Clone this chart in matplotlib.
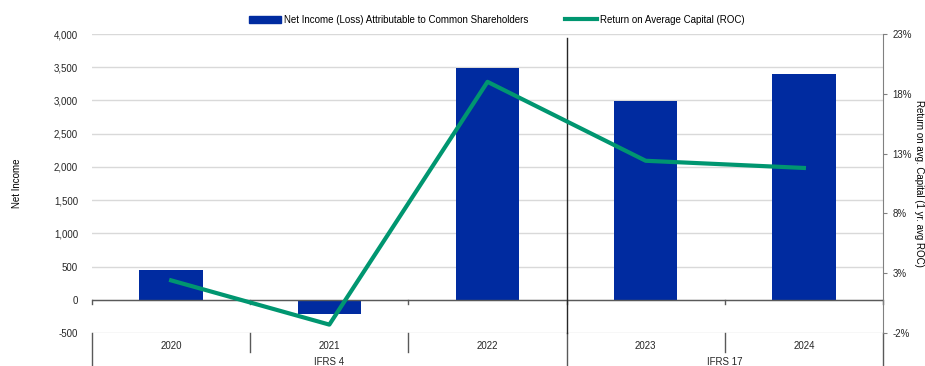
import matplotlib.pyplot as plt
import numpy as np
from matplotlib.ticker import FuncFormatter
from matplotlib.lines import Line2D
from matplotlib.patches import Patch

years = ['2020', '2021', '2022', '2023', '2024']
net_income = [450, -210, 3490, 2990, 3400]
roc = [2.4, -1.3, 19.0, 12.4, 11.8]
groups = ['IFRS 4', 'IFRS 17']
group_sizes = [3, 2]

bar_color = '#002BA0'
line_color = '#009670'
grid_color = '#D9D9D9'

plt.rcParams['font.family'] = ['Liberation Sans', 'DejaVu Sans']
plt.rcParams['font.size'] = 7

fig = plt.figure(figsize=(9.25, 3.66), dpi=100)
ax = fig.add_axes([0.0995, 0.0902, 0.8551, 0.8169])
ax2 = ax.twinx()

x = np.arange(len(years)) + 0.5
ax.bar(x, net_income, width=0.4, color=bar_color, zorder=3)
ax.set_xlim(0, len(years))
ax.set_ylim(-500, 4000)
ax.set_yticks(range(-500, 4001, 500))
ax.yaxis.set_major_formatter(FuncFormatter(lambda v, p: f'{int(v):,}'))
ax.grid(axis='y', color=grid_color, linewidth=1, zorder=0)
ax.axhline(0, color='#595959', linewidth=1, zorder=4)
ax.tick_params(axis='y', length=0, pad=10, labelcolor='#262626')
ax.set_xticks([])
for s in ['top', 'right', 'left', 'bottom']:
    ax.spines[s].set_visible(False)
ax.set_ylabel('Net Income', va='center')
ax.yaxis.set_label_coords(-0.095, 0.5)

ax2.plot(x, roc, color=line_color, linewidth=3, zorder=5)
ax2.set_ylim(-2, 23)
ax2.set_yticks(range(-2, 24, 5))
ax2.yaxis.set_major_formatter(FuncFormatter(lambda v, p: f'{int(v)}%'))
ax2.tick_params(axis='y', length=3, pad=4, color='#808080', labelcolor='#262626')
for s in ['top', 'left', 'bottom']:
    ax2.spines[s].set_visible(False)
ax2.spines['right'].set_color('#808080')
ax2.set_ylabel('Return on avg. Capital (1 yr. avg ROC)', rotation=270, va='center')
ax2.yaxis.set_label_coords(1.046, 0.5)

# category axis drawn below the plot
trans = ax.get_xaxis_transform()
for i, yr in enumerate(years):
    ax.text(i + 0.5, -0.043, yr, transform=trans, ha='center', va='center',
            color='#262626')
bounds = np.cumsum([0] + group_sizes)
for b in range(len(years) + 1):
    low = -0.11 if b in bounds else -0.064
    ax.plot([b, b], [0, low], transform=trans, color='#595959', linewidth=1,
            clip_on=False)
    ax.plot([b, b], [1 / 9, 1 / 9 - 0.014], transform=trans, color='#595959',
            linewidth=1, clip_on=False)
for g, a, b in zip(groups, bounds[:-1], bounds[1:]):
    ax.text((a + b) / 2, -0.097, g, transform=trans, ha='center', va='center',
            color='#262626')

# regime separator
ax.plot([3, 3], [0.987, 0], transform=trans, color='#262626', linewidth=1,
        zorder=6, clip_on=False)

handles = [Patch(color=bar_color), Line2D([], [], color=line_color, linewidth=3)]
labels = ['Net Income (Loss) Attributable to Common Shareholders',
          'Return on Average Capital (ROC)']
fig.legend(handles, labels, loc='center', bbox_to_anchor=(0.537, 0.946), ncol=2,
           frameon=False, handlelength=3.3, columnspacing=3.8, handletextpad=0.3)

fig.savefig('out.png', dpi=100)
